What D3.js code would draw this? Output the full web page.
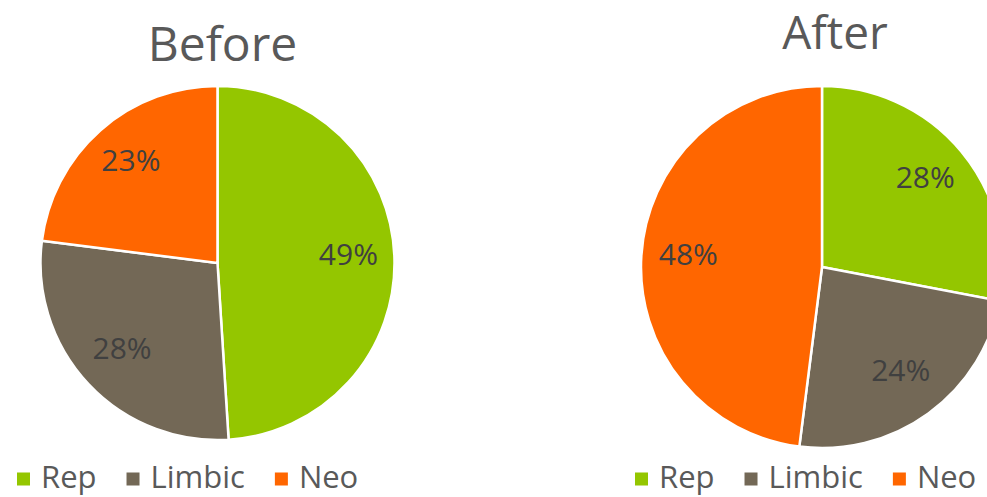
<!DOCTYPE html>
<html>
<head>
<meta charset="utf-8">
<script src="https://cdn.jsdelivr.net/npm/d3@7"></script>
<style>
  html, body { margin: 0; padding: 0; background: #fff; }
  svg { display: block; }
  text { font-family: "Open Sans", "DejaVu Sans", sans-serif; fill: #595959; }
</style>
</head>
<body>
<svg id="chart" width="987" height="497"></svg>
<script>
// Brain-layer shares before and after
const categories = ["Rep", "Limbic", "Neo"];
const colors = ["#94c600", "#736856", "#ff6600"];
const beforeValues = [49, 28, 23];
const afterValues = [28, 24, 48];
const titles = ["Before", "After"];

const svg = d3.select("#chart");
const color = d3.scaleOrdinal().domain(categories).range(colors);

const panels = [
  { title: titles[0], values: beforeValues, cx: 217.5, cy: 263, r: 177, titleX: 222.5, titleY: 61, titleSize: 48, legendX: 17 },
  { title: titles[1], values: afterValues, cx: 822, cy: 267, r: 181, titleX: 835, titleY: 49, titleSize: 46, legendX: 635 }
];

const pie = d3.pie().sort(null).value(d => d.value);

panels.forEach(p => {
  const data = categories.map((c, i) => ({ name: c, value: p.values[i] }));
  const g = svg.append("g").attr("transform", `translate(${p.cx},${p.cy})`);
  const arc = d3.arc().innerRadius(0).outerRadius(p.r);
  const labelArc = d3.arc().innerRadius(p.r * 0.74).outerRadius(p.r * 0.74);
  const arcs = pie(data);

  // slices with white separators
  g.selectAll("path").data(arcs).join("path")
    .attr("d", arc)
    .attr("fill", d => color(d.data.name))
    .attr("stroke", "#fff")
    .attr("stroke-width", 2.5)
    .attr("stroke-linejoin", "round");

  // percentage labels
  g.selectAll("text.lbl").data(arcs).join("text")
    .attr("class", "lbl")
    .attr("transform", d => `translate(${labelArc.centroid(d)})`)
    .attr("text-anchor", "middle")
    .attr("dy", "0.2em")
    .style("font-size", "30px")
    .style("fill", "#404040")
    .text(d => d.data.value + "%");

  svg.append("text")
    .attr("x", p.titleX)
    .attr("y", p.titleY)
    .attr("text-anchor", "middle")
    .style("font-size", p.titleSize + "px")
    .text(p.title);

  // legend row
  const lg = svg.append("g").attr("transform", `translate(${p.legendX},479)`);
  let x = 0;
  categories.forEach(c => {
    lg.append("rect")
      .attr("x", x).attr("y", -6.5)
      .attr("width", 13).attr("height", 13)
      .attr("fill", color(c));
    const t = lg.append("text")
      .attr("x", x + 24).attr("y", 9)
      .style("font-size", "31px")
      .text(c);
    x += 24 + t.node().getComputedTextLength() + 30;
  });
});
</script>
</body>
</html>
